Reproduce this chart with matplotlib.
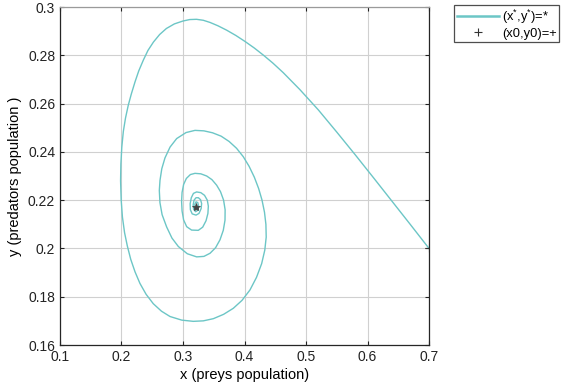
import numpy as np
import matplotlib
matplotlib.use("Agg")
import matplotlib.pyplot as plt

# trajectory as (x preys, y predators), one list per turn
loop1 = [(0.700, 0.2000), (0.670, 0.2098), (0.640, 0.2195), (0.610, 0.2292), (0.580, 0.2388),
         (0.550, 0.2482), (0.520, 0.2574), (0.490, 0.2658), (0.463, 0.2728), (0.446, 0.2768),
         (0.431, 0.2800), (0.416, 0.2830), (0.401, 0.2857), (0.386, 0.2882), (0.371, 0.2904),
         (0.357, 0.2922), (0.344, 0.2936), (0.333, 0.2945), (0.322, 0.2949), (0.311, 0.2948),
         (0.300, 0.2942), (0.286, 0.2930), (0.273, 0.2911), (0.262, 0.2886), (0.252, 0.2855),
         (0.243, 0.2820), (0.2355, 0.2780), (0.228, 0.2735), (0.222, 0.2690), (0.216, 0.2640),
         (0.211, 0.2593), (0.2065, 0.2540), (0.203, 0.2485), (0.2005, 0.2420), (0.199, 0.2350),
         (0.1985, 0.2280), (0.1995, 0.2200), (0.2015, 0.2130), (0.2050, 0.2065), (0.2095, 0.2010),
         (0.2150, 0.1955), (0.2220, 0.1903), (0.2300, 0.1855), (0.2400, 0.1810), (0.2517, 0.1771),
         (0.2650, 0.1740), (0.2789, 0.1718), (0.2980, 0.1703), (0.3167, 0.1698), (0.3330, 0.1700),
         (0.3493, 0.1709), (0.3660, 0.1727), (0.3818, 0.1752), (0.3960, 0.1785), (0.4089, 0.1828),
         (0.4195, 0.1880), (0.4279, 0.1937), (0.4330, 0.1993), (0.4353, 0.2047), (0.4348, 0.2100),
         (0.4325, 0.2150), (0.4285, 0.2200), (0.4230, 0.2248), (0.4160, 0.2295), (0.4075, 0.2340),
         (0.3980, 0.2380), (0.3870, 0.2415), (0.3750, 0.2443), (0.3620, 0.2465), (0.3480, 0.2479),
         (0.3340, 0.2487), (0.3195, 0.2489)]
loop2 = [(0.3050, 0.2480), (0.2897, 0.2455), (0.2790, 0.2420), (0.2707, 0.2375), (0.2655, 0.2330),
         (0.2626, 0.2282), (0.2615, 0.2240), (0.2625, 0.2190), (0.2660, 0.2140), (0.2734, 0.2089),
         (0.2820, 0.2043), (0.2924, 0.2008), (0.3070, 0.1978), (0.3222, 0.1965), (0.3340, 0.1967),
         (0.3440, 0.1980), (0.3530, 0.2003), (0.3602, 0.2036), (0.3655, 0.2075), (0.3683, 0.2117),
         (0.3685, 0.2160), (0.3660, 0.2200), (0.3610, 0.2235), (0.3547, 0.2262), (0.3470, 0.2285),
         (0.3385, 0.2300), (0.3290, 0.2309), (0.3195, 0.2311)]
loop3 = [(0.3120, 0.2306), (0.3055, 0.2290), (0.3010, 0.2265), (0.2985, 0.2232), (0.2977, 0.2195),
         (0.2985, 0.2155), (0.3010, 0.2118), (0.3060, 0.2090), (0.3140, 0.2076), (0.3249, 0.2075),
         (0.3320, 0.2088), (0.3375, 0.2115), (0.3405, 0.2145), (0.3412, 0.2175), (0.3395, 0.2200),
         (0.3350, 0.2220), (0.3290, 0.2231), (0.3222, 0.2234)]
loop4 = [(0.3170, 0.2228), (0.3135, 0.2210), (0.3116, 0.2185), (0.3120, 0.2160), (0.3150, 0.2143),
         (0.3212, 0.2138), (0.3260, 0.2145), (0.3295, 0.2165), (0.3303, 0.2186), (0.3285, 0.2202),
         (0.3250, 0.2210), (0.3212, 0.2210)]
loop5 = [(0.3180, 0.2200), (0.3165, 0.2180), (0.3172, 0.2162), (0.3205, 0.2152), (0.3240, 0.2158),
         (0.3255, 0.2175), (0.3240, 0.2190), (0.3212, 0.2193), (0.3192, 0.2182), (0.3195, 0.2168),
         (0.3215, 0.2164), (0.3228, 0.2174), (0.3212, 0.2173)]

x_star, y_star = 0.3212, 0.2173   # equilibrium
x0, y0 = 0.7, 0.2                 # initial point

xticks = [0.1, 0.2, 0.3, 0.4, 0.5, 0.6, 0.7]
yticks = [0.16, 0.18, 0.2, 0.22, 0.24, 0.26, 0.28, 0.3]
xtick_labels = ["0.1", "0.2", "0.3", "0.4", "0.5", "0.6", "0.7"]
ytick_labels = ["0.16", "0.18", "0.2", "0.22", "0.24", "0.26", "0.28", "0.3"]

traj = np.array(loop1 + loop2 + loop3 + loop4 + loop5)

plt.rcParams['font.family'] = ['Liberation Sans', 'DejaVu Sans']
plt.rcParams['mathtext.fontset'] = 'custom'
plt.rcParams['mathtext.rm'] = 'Liberation Sans'
plt.rcParams['mathtext.it'] = 'Liberation Sans'

fig = plt.figure(figsize=(5.63, 3.88), dpi=100)
ax = fig.add_axes([60 / 563, 1 - 345 / 388, 369 / 563, 338 / 388])

line_col = '#6cc6c6'
ax.plot(traj[:, 0], traj[:, 1], color=line_col, lw=1.0, label=r'(x$^{*}$,y$^{*}$)=*')
ax.plot([x0], [y0], '+', color='#333333', ms=6, mew=0.8, label='(x0,y0)=+')
ax.plot([x_star], [y_star], '*', color='#444444', ms=6, mew=0.6)

ax.set_xlim(0.1, 0.7)
ax.set_ylim(0.16, 0.3)
ax.set_xticks(xticks)
ax.set_xticklabels(xtick_labels)
ax.set_yticks(yticks)
ax.set_yticklabels(ytick_labels)
ax.grid(True, color='#d0d0d0', lw=0.8)
ax.set_axisbelow(True)
ax.tick_params(direction='in', length=3, width=0.8, top=True, right=True,
               labelsize=10, colors='#222222')
for s in ax.spines.values():
    s.set_color('#262626')
    s.set_linewidth(0.9)
ax.spines['top'].set_color('#9a9a9a')

ax.set_xlabel('x (preys population)', fontsize=10.5, labelpad=3)
ax.set_ylabel('y (predators population )', fontsize=10.5, labelpad=4)

leg = fig.legend(loc='upper left', bbox_to_anchor=(454 / 563, 1 - 5 / 388),
                 fontsize=9.3, frameon=True, fancybox=False, edgecolor='#222222',
                 handlelength=3.3, borderpad=0.2, labelspacing=0.15,
                 handletextpad=0.2, borderaxespad=0)
leg.get_frame().set_linewidth(0.9)
leg.get_lines()[0].set_linewidth(1.8)

fig.savefig('out.png', dpi=100)
